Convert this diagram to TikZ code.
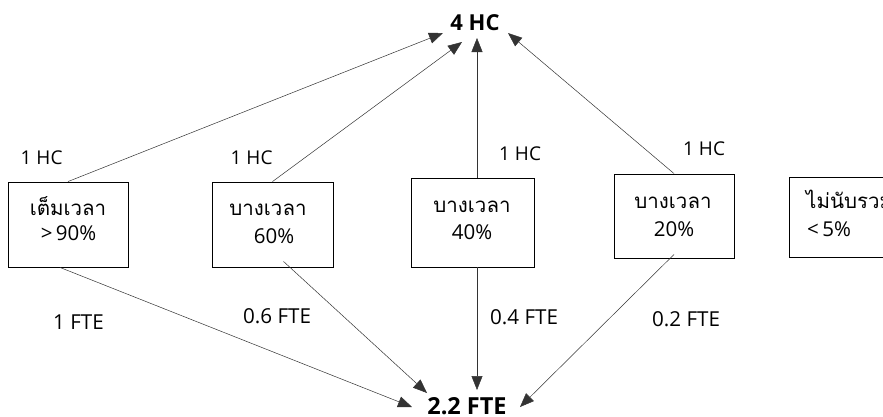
\documentclass[tikz,border=0pt]{standalone}
\usepackage{fontspec}
\setmainfont{Open Sans}
\newfontfamily\thaifont[Script=Thai]{Loma}
\usetikzlibrary{arrows.meta}
\tikzset{
  box/.style={draw, line width=0.9pt, inner sep=0pt},
  lbl/.style={font=\fontsize{20.5}{24}\selectfont, inner sep=0pt, anchor=base},
  hclbl/.style={font=\fontsize{19}{22}\selectfont, inner sep=0pt, anchor=base west},
  ftelbl/.style={font=\fontsize{20.6}{24}\selectfont, inner sep=0pt, anchor=base west},
  thai/.style={font=\fontsize{20.5}{24}\thaifont, inner sep=0pt, anchor=base},
  total/.style={font=\fontsize{22}{26}\selectfont\bfseries, inner sep=0pt, anchor=base},
  link/.style={line width=0.5pt, draw=black!80, -{Triangle[length=14pt,width=11pt]}},
}
\begin{document}
\begin{tikzpicture}[x=1pt,y=-1pt]
\useasboundingbox (0,0) rectangle (883,416);
\clip (0,0) rectangle (883,416);
% sums
\node[total] (hc) at (475,30.5) {4 HC};
\node[total, font=\fontsize{23.5}{26}\selectfont\bfseries] (fte) at (467,414) {2.2 FTE};
% groups of staff
\node[box, minimum width=120pt, minimum height=85pt] (b1) at (68,224.5) {};
\node[box, minimum width=121pt, minimum height=85pt] (b2) at (272.5,224.5) {};
\node[box, minimum width=123pt, minimum height=89pt] (b3) at (472.5,222.5) {};
\node[box, minimum width=120pt, minimum height=84pt] (b4) at (674,216) {};
\node[box, minimum width=130pt, minimum height=80pt] (b5) at (854,217) {};
% texts in the boxes
\node[thai] at (68,215) {เต็มเวลา};
\node[lbl] at (68.5,240) {>\,90\%};
\node[thai] at (268,215) {บางเวลา};
\node[lbl] at (274,243) {60\%};
\node[thai] at (472,212) {บางเวลา};
\node[lbl] at (472,239) {40\%};
\node[thai] at (673,208) {บางเวลา};
\node[lbl] at (674,236) {20\%};
\node[thai, anchor=base west] at (806,208) {ไม่นับรวม};
\node[lbl, anchor=base west] at (807,236) {<\,5\%};
% head counts
\node[hclbl] at (20.5,164) {1 HC};
\node[hclbl] at (230.5,164) {1 HC};
\node[hclbl] at (499,160.7) {1 HC};
\node[hclbl] at (683,155) {1 HC};
% full-time equivalents
\node[ftelbl] at (53,329) {1 FTE};
\node[ftelbl] at (243,323) {0.6 FTE};
\node[ftelbl] at (490,324) {0.4 FTE};
\node[ftelbl] at (652,326.7) {0.2 FTE};
% connectors
\coordinate (h1) at (443,33);
\coordinate (h2) at (462,42);
\coordinate (h3) at (477,38);
\coordinate (h4) at (508,33);
\coordinate (f1) at (412,407);
\coordinate (f2) at (427,393);
\coordinate (f3) at (477,390);
\coordinate (f4) at (520,407);
\draw[link] (b1.north) -- (h1);
\draw[link] (b2.north) -- (h2);
\draw[link] ([xshift=4.5pt]b3.north) -- (h3);
\draw[link] (b4.north) -- (h4);
\draw[link] ([xshift=-8pt]b1.south) -- (f1);
\draw[link] ([xshift=11pt,yshift=6pt]b2.south) -- (f2);
\draw[link] ([xshift=4.5pt]b3.south) -- (f3);
\draw[link] ([yshift=4pt]b4.south) -- (f4);
\end{tikzpicture}
\end{document}
